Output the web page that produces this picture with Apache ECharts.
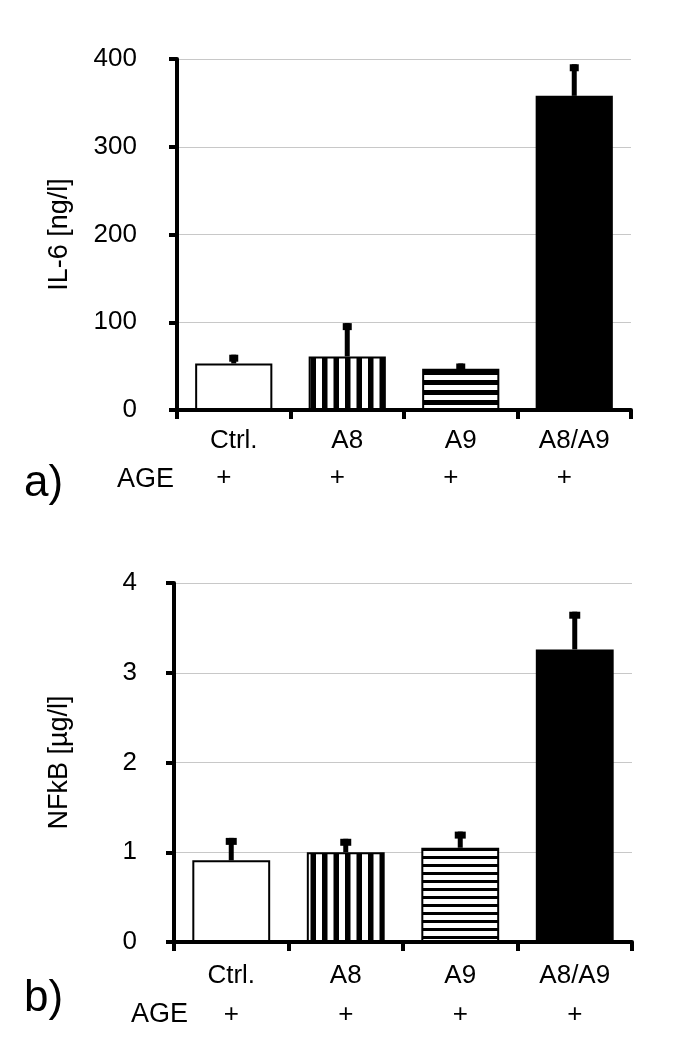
<!DOCTYPE html>
<html>
<head>
<meta charset="utf-8">
<script src="https://cdn.jsdelivr.net/npm/echarts@6/dist/echarts.min.js"></script>
<style>
html,body{margin:0;padding:0;background:#fff;}
#c{width:685px;height:1064px;}
</style>
</head>
<body>
<div id="c"></div>
<script>
// ---- data ----
const categories = ['Ctrl.', 'A8', 'A9', 'A8/A9'];
const ageRow = ['+', '+', '+', '+'];
const il6Mean = [53, 61, 47, 358];
const il6Upper = [63, 99, 53, 394];
const nfkbMean = [0.91, 1.0, 1.05, 3.26];
const nfkbUpper = [1.16, 1.15, 1.23, 3.68];
const il6Ticks = {min: 0, max: 400, interval: 100};
const nfkbTicks = {min: 0, max: 4, interval: 1};

// ---- patterns ----
function vStripes() {
  const c = document.createElement('canvas');
  c.width = 23; c.height = 4;
  const g = c.getContext('2d');
  g.fillStyle = '#fff'; g.fillRect(0, 0, 23, 4);
  g.fillStyle = '#000'; g.fillRect(0, 0, 5.5, 4); g.fillRect(11.5, 0, 5.5, 4);
  return c;
}
function hStripes(period, black) {
  const c = document.createElement('canvas');
  c.width = 4; c.height = period;
  const g = c.getContext('2d');
  g.fillStyle = '#fff'; g.fillRect(0, 0, 4, period);
  g.fillStyle = '#000'; g.fillRect(0, 0, 4, black);
  return c;
}
const FONT = "'Liberation Sans', Arial, sans-serif";

function barStyles(hPeriod, hBlack) {
  return [
    {color: '#fff', borderColor: '#000', borderWidth: 2},
    {color: {image: vStripes(), repeat: 'repeat'}, borderColor: '#000', borderWidth: 2},
    {color: {image: hStripes(hPeriod, hBlack), repeat: 'repeat'}, borderColor: '#000', borderWidth: 2},
    {color: '#000', borderColor: '#000', borderWidth: 0}
  ];
}

function errRender(stemW, capW, capH) {
  return function (params, api) {
    const x = api.value(0), v = api.value(1), t = api.value(2);
    const p0 = api.coord([x, v]);
    const p1 = api.coord([x, t]);
    return {
      type: 'group',
      children: [
        {type: 'rect', shape: {x: p0[0] - stemW / 2, y: p1[1], width: stemW, height: p0[1] - p1[1]}, style: {fill: '#000'}},
        {type: 'rect', shape: {x: p0[0] - capW / 2, y: p1[1], width: capW, height: capH}, style: {fill: '#000'}}
      ]
    };
  };
}

function xAxisCfg(gridIndex, margin, lineH, plusPad) {
  return {
    type: 'category', gridIndex: gridIndex, data: categories,
    axisLine: {lineStyle: {color: '#000', width: 4}},
    axisTick: {show: true, length: 9, lineStyle: {color: '#000', width: 4}},
    axisLabel: {
      margin: margin, color: '#000', fontFamily: FONT,
      formatter: function (v, i) { return '{n|' + v + '}\n{p|' + ageRow[i] + '}'; },
      rich: {
        n: {fontSize: 26, fontFamily: FONT, color: '#000', lineHeight: lineH},
        p: {fontSize: 26, fontFamily: FONT, color: '#000', lineHeight: lineH, padding: plusPad}
      }
    }
  };
}
function yAxisCfg(gridIndex, ticks, name, labelMargin, nameGap) {
  return {
    type: 'value', gridIndex: gridIndex, min: ticks.min, max: ticks.max, interval: ticks.interval,
    name: name, nameLocation: 'middle', nameGap: nameGap,
    nameTextStyle: {fontSize: 27, fontFamily: FONT, color: '#000'},
    axisLine: {show: true, lineStyle: {color: '#000', width: 4}},
    axisTick: {show: true, length: 8, lineStyle: {color: '#000', width: 4}},
    axisLabel: {margin: labelMargin, fontSize: 26, fontFamily: FONT, color: '#000'},
    splitLine: {show: true, lineStyle: {color: '#c8c8c8', width: 1}}
  };
}

const topStyles = barStyles(10, 5);
const botStyles = barStyles(8, 3);

const option = {
  animation: false,
  backgroundColor: '#fff',
  grid: [
    {left: 177, width: 454, top: 59, height: 351},
    {left: 174, width: 458, top: 583, height: 359}
  ],
  xAxis: [xAxisCfg(0, 12, 37, [0, 20, 0, 0]), xAxisCfg(1, 14, 39, [0, 0, 0, 0])],
  yAxis: [yAxisCfg(0, il6Ticks, 'IL-6 [ng/l]', 40, 104), yAxisCfg(1, nfkbTicks, 'NFkB [µg/l]', 37, 101)],
  series: [
    {type: 'bar', xAxisIndex: 0, yAxisIndex: 0, barWidth: '68%',
     data: il6Mean.map((v, i) => ({value: v, itemStyle: topStyles[i]}))},
    {type: 'custom', xAxisIndex: 0, yAxisIndex: 0, renderItem: errRender(5, 9, 7),
     encode: {x: 0, y: [1, 2]},
     data: il6Mean.map((v, i) => [i, v, il6Upper[i]]), z: 3},
    {type: 'bar', xAxisIndex: 1, yAxisIndex: 1, barWidth: '68%',
     data: nfkbMean.map((v, i) => ({value: v, itemStyle: botStyles[i]}))},
    {type: 'custom', xAxisIndex: 1, yAxisIndex: 1, renderItem: errRender(5, 11, 7),
     encode: {x: 0, y: [1, 2]},
     data: nfkbMean.map((v, i) => [i, v, nfkbUpper[i]]), z: 3}
  ],
  graphic: [
    {type: 'text', left: 24, top: 462, style: {text: 'a)', fontSize: 44, fontFamily: FONT, fill: '#000'}},
    {type: 'text', left: 117, top: 466, style: {text: 'AGE', fontSize: 27, fontFamily: FONT, fill: '#000'}},
    {type: 'text', left: 24, top: 977, style: {text: 'b)', fontSize: 44, fontFamily: FONT, fill: '#000'}},
    {type: 'text', left: 131, top: 1001, style: {text: 'AGE', fontSize: 27, fontFamily: FONT, fill: '#000'}}
  ]
};
const chart = echarts.init(document.getElementById('c'));
chart.setOption(option);
</script>
</body>
</html>
